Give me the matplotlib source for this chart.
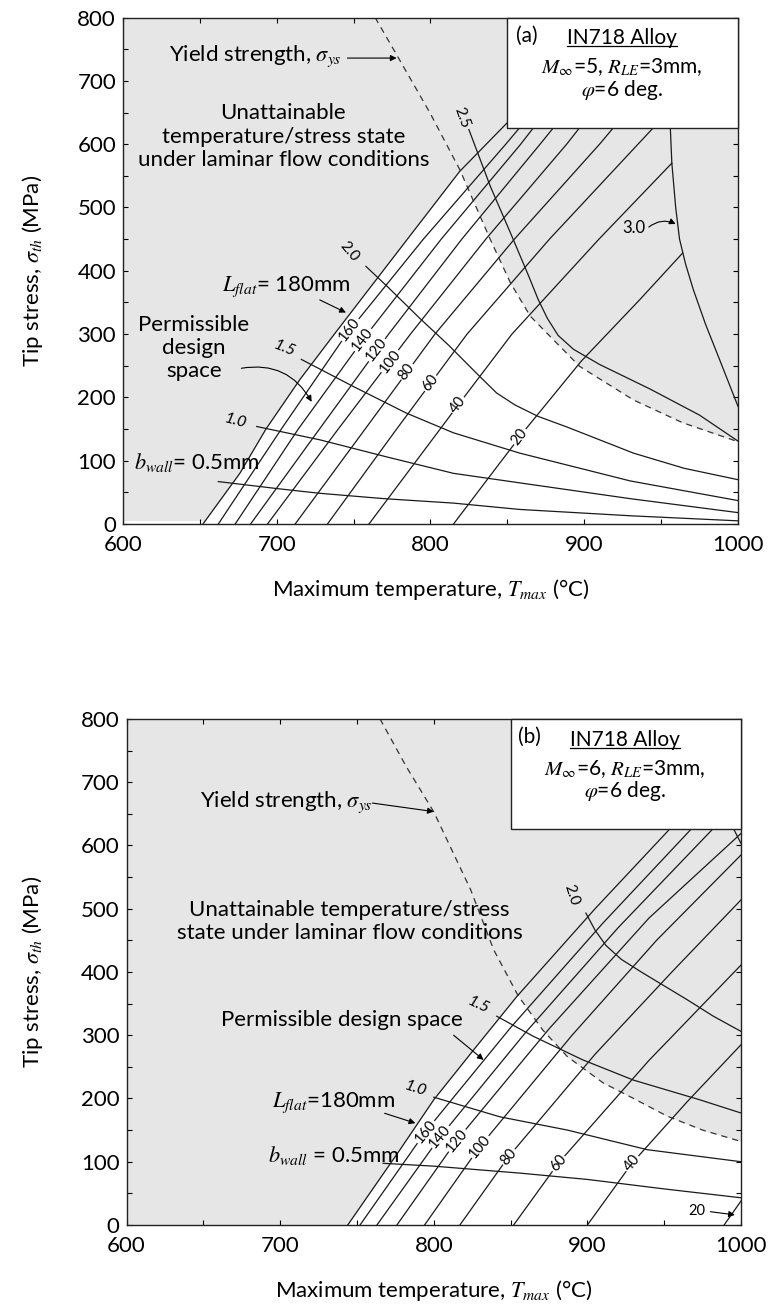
import matplotlib
matplotlib.use("Agg")
import matplotlib.pyplot as plt
import numpy as np
from matplotlib.patches import Rectangle
from matplotlib.lines import Line2D

plt.rcParams['font.family'] = ['Lato', 'DejaVu Sans']
plt.rcParams['mathtext.fontset'] = 'stix'

# ---------------- panel (a): M=5 ----------------
# yield strength (dashed)
ys_T_a = [764, 779, 800, 819, 839, 852, 865, 882, 897, 932, 964, 1000]
ys_S_a = [800, 737, 648, 560, 449, 381, 328, 286, 249, 196, 160, 130]

# L_flat lines
La180_T = [652, 676, 693, 715, 737.5, 785, 819, 850, 859]
La180_S = [0, 80, 150, 228, 300, 450, 557, 634, 660]
La160_T = [662, 703, 745.4, 795.4, 849, 858, 867]
La140_T = [673, 714, 758.8, 807, 858.7, 867, 876]
La120_T = [683, 727.8, 772.8, 820.4, 871.3, 880, 889]
La100_T = [694, 740, 787, 836, 888.6, 897, 906]
La80_T = [712, 757.5, 802.9, 854.6, 910, 919, 928]
La60_T = [733, 778, 823.8, 877.4, 935, 945, 955]
La_mid_S = [0, 150, 300, 450, 600, 626, 652]
La40_T = [760, 806.3, 818, 853, 909.6, 957]
La40_S = [0, 150, 188, 300, 450, 570]
La20_T = [815, 845, 862, 898, 936, 964]
La20_S = [0, 96, 150, 257, 354, 428]

La_lab = ['160', '140', '120', '100', '80', '60', '40', '20']
La_lab_T = [747.6, 756, 765, 773.7, 784.5, 799.7, 818, 858]
La_lab_S = [307, 291, 275, 257, 241, 223, 188, 138]

# b_wall lines
Ba05_T = [662, 700, 728, 770, 815, 858, 930, 1000]
Ba05_S = [67, 56, 48.5, 40, 33, 23, 13, 5]
Ba10_T = [687, 728, 771.5, 815, 858, 930, 1000]
Ba10_S = [154, 133, 106, 80, 65, 40, 18]
Ba15_T = [716, 750, 784.5, 815, 858, 930, 1000]
Ba15_S = [260, 217, 175, 144, 112, 68, 37]
Ba20_T = [758, 772, 793, 812, 830, 843, 855, 870, 889, 932, 965, 1000]
Ba20_S = [407, 375, 325, 282, 238, 207, 188, 170, 153, 112, 88, 70]
Ba25_T = [825, 839, 852, 864, 870, 876, 883, 893, 910, 943, 975, 1000]
Ba25_S = [623, 533, 460, 391, 355, 325, 298, 276, 252, 213, 172, 131]
Ba30_T = [955, 956, 957, 959.5, 962, 966, 971, 979, 988, 1000]
Ba30_S = [700, 626, 570, 500, 450, 410, 370, 315, 260, 186]

# ---------------- panel (b): M=6 ----------------
ys_T_b = [765, 782, 800, 824, 839, 855, 871, 887, 910, 930, 952, 975, 1000]
ys_S_b = [800, 725, 653, 530, 435, 362, 308, 266, 225, 200, 172, 150, 132]

Lb180_T = [744, 778, 800, 826, 854, 905, 954, 964]
Lb180_S = [0, 119, 198, 277, 361, 500, 627, 652]
Lb160_T = [752, 794.6, 850, 910, 968, 978]
Lb160_S = [0, 147.5, 312, 477, 627, 652]
Lb140_T = [763, 804.2, 860, 920, 982, 992]
Lb140_S = [0, 139.6, 305, 470, 627, 652]
Lb120_T = [776, 815, 875, 940, 1000]
Lb120_S = [0, 134, 310, 485, 619]
Lb100_T = [794, 830, 890, 945, 1000]
Lb100_S = [0, 124, 300, 450, 585]
Lb80_T = [817, 848.7, 905, 955, 1000]
Lb80_S = [0, 108, 270, 400, 514]
Lb60_T = [852, 881, 940, 1000]
Lb60_S = [0, 97.5, 260, 411]
Lb40_T = [900, 929, 965, 1000]
Lb40_S = [0, 97.5, 195, 285]
Lb20_T = [989, 1000]
Lb20_S = [0, 38]

Lb_lab = ['160', '140', '120', '100', '80', '60', '40']
Lb_lab_T = [794.6, 804.2, 815, 830, 848.7, 881, 929]
Lb_lab_S = [147.5, 139.6, 134, 124, 108, 97.5, 97.5]

Bb05_T = [767, 800, 856, 900, 950, 1000]
Bb05_S = [97.5, 93, 82, 72, 57, 43]
Bb10_T = [800, 843, 887, 939, 1000]
Bb10_S = [202, 171, 150, 119, 100]
Bb15_T = [841, 865, 897, 930, 973, 1000]
Bb15_S = [330, 298, 261, 229, 198, 177]
Bb20_T = [899, 905, 912, 922, 935, 950, 965, 982, 1000]
Bb20_S = [493, 466, 442, 420, 400, 378, 356, 330, 306]
Bb25_T = [990, 995, 1000]
Bb25_S = [660, 627, 603]

LC = '#1a1a1a'
GREY = '#e6e6e6'
FS = 16
FS_BOX = 15


def style_axes(ax):
    ax.set_xlim(600, 1000)
    ax.set_ylim(0, 800)
    ax.set_facecolor(GREY)
    ax.set_xticks(range(600, 1001, 100))
    ax.set_yticks(range(0, 801, 100))
    ax.set_xticks(range(650, 1000, 100), minor=True)
    ax.set_yticks(range(50, 800, 100), minor=True)
    ax.tick_params(which='both', direction='in', top=True, right=True,
                   length=3.6, width=0.8, labelsize=FS, pad=5)
    ax.tick_params(axis='x', which='both', pad=8)
    for sp in ax.spines.values():
        sp.set_linewidth(1.0)
        sp.set_color('#222222')
    ax.set_xlabel(r'Maximum temperature, $T_{max}$ (°C)', fontsize=FS)
    ax.set_ylabel(r'Tip stress, $\sigma_{th}$ (MPa)', fontsize=FS)


def white_region(ax, lT, lS, dT, dS):
    t = np.linspace(min(lT), 1000, 2000)
    l_on = np.interp(t, lT, lS, right=np.nan)
    d_on = np.interp(t, dT, dS)
    ax.fill_between(t, 0, np.fmin(l_on, d_on), color='white', lw=0, zorder=0.5)


def arrow(ax, head, tail, rad=0.0):
    ax.annotate('', xy=head, xytext=tail, zorder=4,
                arrowprops=dict(arrowstyle='-|>', color='k', lw=0.8,
                                mutation_scale=9, shrinkA=0, shrinkB=0,
                                connectionstyle='arc3,rad=%s' % rad))


def legend_box(ax, tag, mach):
    ax.add_patch(Rectangle((850, 626), 150, 174, fc='white', ec='#222222',
                           lw=1.0, zorder=5, clip_on=False))
    ax.text(862.5, 771, tag, fontsize=FS_BOX, ha='center', va='center', zorder=6)
    t = ax.text(924.5, 767, 'IN718 Alloy', fontsize=FS_BOX, ha='center', va='center', zorder=6)
    ax.text(924.5, 721, r'$M_{\infty}$=%d, $R_{LE}$=3mm,' % mach, fontsize=FS_BOX,
            ha='center', va='center', zorder=6)
    ax.text(924.5, 686, r'$\varphi$=6 deg.', fontsize=FS_BOX, ha='center', va='center', zorder=6)
    return t


fig = plt.figure(figsize=(7.72, 13.10), dpi=100)
ax1 = fig.add_axes([0.1593, 0.6000, 0.7966, 0.3866])
ax2 = fig.add_axes([0.1639, 0.0649, 0.7960, 0.3863])

# ---------------- draw panel (a) ----------------
style_axes(ax1)
white_region(ax1, La180_T, La180_S, ys_T_a, ys_S_a)
ax1.fill_between([600, 652], 0, 5, color='white', lw=0, zorder=0.5)
ax1.plot(ys_T_a, ys_S_a, color='#333333', lw=0.9, ls=(0, (5, 4)), zorder=2)

lines_a = [(La180_T, La180_S), (La160_T, La_mid_S), (La140_T, La_mid_S),
           (La120_T, La_mid_S), (La100_T, La_mid_S), (La80_T, La_mid_S),
           (La60_T, La_mid_S), (La40_T, La40_S), (La20_T, La20_S),
           (Ba05_T, Ba05_S), (Ba10_T, Ba10_S), (Ba15_T, Ba15_S),
           (Ba20_T, Ba20_S), (Ba25_T, Ba25_S), (Ba30_T, Ba30_S)]
for T, S in lines_a:
    ax1.plot(T, S, color=LC, lw=0.9, zorder=2)

for lab, T, S in zip(La_lab, La_lab_T, La_lab_S):
    ax1.text(T, S, lab, fontsize=10.5, rotation=52, ha='center', va='center',
             rotation_mode='anchor', zorder=3,
             bbox=dict(boxstyle='square,pad=0.08', fc='white', ec='none'))

ax1.text(820, 642, '2.5', fontsize=11, rotation=-70, ha='center', va='center')
ax1.text(747, 430, '2.0', fontsize=11, rotation=-50, ha='center', va='center')
ax1.text(705, 277, '1.5', fontsize=11.5, rotation=-22, style='italic',
         ha='center', va='center')
ax1.text(673, 163, '1.0', fontsize=11.5, rotation=-15, style='italic',
         ha='center', va='center')
ax1.text(932, 468, '3.0', fontsize=12, ha='center', va='center')
arrow(ax1, (959.5, 474), (942, 469), rad=-0.3)

ax1.text(607, 97, r'$b_{wall}$= 0.5mm', fontsize=FS, ha='left', va='center')
ax1.text(706, 375, r'$L_{flat}$= 180mm', fontsize=FS, ha='center', va='center')
arrow(ax1, (745, 334), (728, 354))

ax1.text(646, 278, 'Permissible\ndesign\nspace', fontsize=FS, ha='center',
         va='center', linespacing=1.2)
arrow(ax1, (722.7, 193), (677, 246), rad=-0.35)

ax1.text(686, 739, r'Yield strength, $\sigma_{ys}$', fontsize=FS, ha='center', va='center')
arrow(ax1, (778, 736), (746, 736))
ax1.text(704.3, 612, 'Unattainable\ntemperature/stress state\nunder laminar flow conditions',
         fontsize=FS, ha='center', va='center', linespacing=1.2)

u1 = legend_box(ax1, '(a)', 5)

# ---------------- draw panel (b) ----------------
style_axes(ax2)
white_region(ax2, Lb180_T, Lb180_S, ys_T_b, ys_S_b)
ax2.plot(ys_T_b, ys_S_b, color='#333333', lw=0.9, ls=(0, (5, 4)), zorder=2)

lines_b = [(Lb180_T, Lb180_S), (Lb160_T, Lb160_S), (Lb140_T, Lb140_S),
           (Lb120_T, Lb120_S), (Lb100_T, Lb100_S), (Lb80_T, Lb80_S),
           (Lb60_T, Lb60_S), (Lb40_T, Lb40_S), (Lb20_T, Lb20_S),
           (Bb05_T, Bb05_S), (Bb10_T, Bb10_S), (Bb15_T, Bb15_S),
           (Bb20_T, Bb20_S), (Bb25_T, Bb25_S)]
for T, S in lines_b:
    ax2.plot(T, S, color=LC, lw=0.9, zorder=2)

for lab, T, S in zip(Lb_lab, Lb_lab_T, Lb_lab_S):
    ax2.text(T, S, lab, fontsize=10.5, rotation=50, ha='center', va='center',
             rotation_mode='anchor', zorder=3,
             bbox=dict(boxstyle='square,pad=0.08', fc='white', ec='none'))

ax2.text(971, 22, '20', fontsize=10.5, ha='center', va='center', zorder=3)
arrow(ax2, (996, 16), (980, 21))
ax2.text(889.9, 521, '2.0', fontsize=11, rotation=-72, ha='center', va='center')
ax2.text(829, 347, '1.5', fontsize=11.5, rotation=-25, style='italic',
         ha='center', va='center')
ax2.text(788, 215, '1.0', fontsize=11.5, rotation=-18, style='italic',
         ha='center', va='center')

ax2.text(692, 110, r'$b_{wall}$ = 0.5mm', fontsize=FS, ha='left', va='center')
ax2.text(735, 193, r'$L_{flat}$=180mm', fontsize=FS, ha='center', va='center')
arrow(ax2, (788, 161), (768, 176.6))

ax2.text(740.3, 324, 'Permissible design space', fontsize=FS, ha='center', va='center')
arrow(ax2, (832.4, 261), (812.9, 300))

ax2.text(704, 669, r'Yield strength, $\sigma_{ys}$', fontsize=FS, ha='center', va='center')
arrow(ax2, (800, 653.5), (760, 667))
ax2.text(745.2, 479.5, 'Unattainable temperature/stress\nstate under laminar flow conditions',
         fontsize=FS, ha='center', va='center', linespacing=1.2)

u2 = legend_box(ax2, '(b)', 6)

ax1.yaxis.set_label_coords(-0.127, 0.5)
ax2.yaxis.set_label_coords(-0.133, 0.5)
for ax in (ax1, ax2):
    ax.xaxis.set_label_coords(0.5, -0.105)

# underline the alloy name
fig.canvas.draw()
inv = fig.transFigure.inverted()
for t in (u1, u2):
    bb = t.get_window_extent()
    (x0, y0), (x1, _) = inv.transform([(bb.x0, bb.y0 + 2), (bb.x1, bb.y0 + 2)])
    fig.add_artist(Line2D([x0, x1], [y0, y0], color='k', lw=0.9))

fig.savefig('out.png', dpi=100)
